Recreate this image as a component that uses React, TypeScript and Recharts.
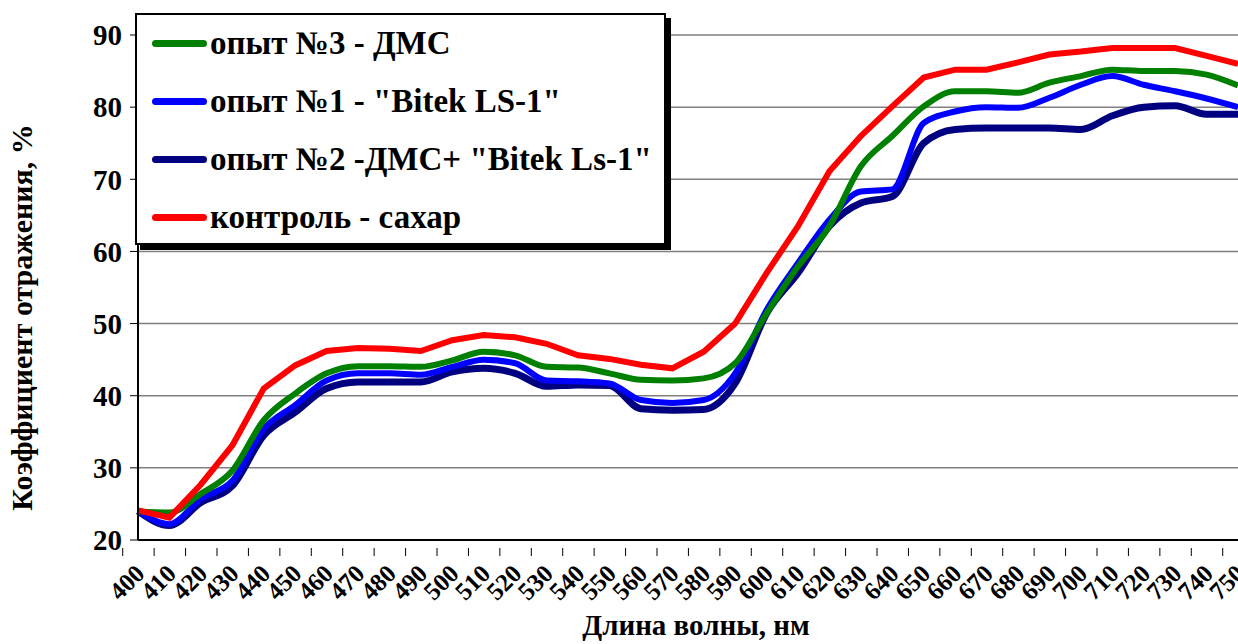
import { LineChart, Line, XAxis, YAxis, CartesianGrid } from "recharts";

// wavelength categories, nm
const WAVELENGTHS = [
  400, 410, 420, 430, 440, 450, 460, 470, 480, 490, 500, 510, 520, 530, 540, 550, 560, 570,
  580, 590, 600, 610, 620, 630, 640, 650, 660, 670, 680, 690, 700, 710, 720, 730, 740, 750,
];

// reflectance values, %
const EXP3_DMS = [
  24, 23.8, 26.4, 29.6, 36.6, 40.3, 43.1, 44.1, 44.1, 44, 44.9, 46.1, 45.6, 44, 43.9, 43.1, 42.2, 42.1,
  42.4, 44.5, 51.4, 57.9, 63.5, 71.8, 76, 80.1, 82.2, 82.2, 82, 83.4, 84.3, 85.2, 85, 85, 84.5, 83,
];
const EXP1_BITEK = [
  24, 22.2, 25.7, 28.2, 35.4, 38.7, 42.1, 43.1, 43.1, 42.9, 44, 45, 44.5, 42.1, 42, 41.7, 39.4, 39,
  39.4, 43.1, 51.9, 58.4, 64.4, 68.3, 68.6, 77.8, 79.4, 80, 79.9, 81.3, 83.1, 84.3, 83.1, 82.2, 81.2, 80,
];
const EXP2_MIX = [
  24, 22, 25.2, 27.5, 34.5, 37.7, 41, 41.9, 41.9, 41.9, 43.3, 43.8, 43.1, 41.3, 41.5, 41.4, 38.2, 38,
  38.1, 41.7, 51.4, 57, 63.5, 66.7, 67.6, 75, 76.9, 77.1, 77.1, 77.1, 76.9, 78.8, 80, 80.2, 79, 79,
];
const CONTROL = [
  24.1, 23.1, 27.7, 33.1, 41, 44.2, 46.2, 46.6, 46.5, 46.2, 47.7, 48.4, 48.1, 47.2, 45.6, 45.1, 44.3, 43.8,
  46.1, 50, 57, 63.5, 71.1, 76, 80.1, 84.1, 85.2, 85.2, 86.2, 87.3, 87.7, 88.2, 88.2, 88.2, 87.1, 86,
];

const Y_TICKS = [20, 30, 40, 50, 60, 70, 80, 90];

const SERIES = [
  { key: "exp3", name: "опыт №3 - ДМС", color: "#008000" },
  { key: "exp1", name: 'опыт №1 - "Bitek LS-1"', color: "#0000FF" },
  { key: "exp2", name: 'опыт №2 -ДМС+ "Bitek Ls-1"', color: "#000080" },
  { key: "control", name: "контроль - сахар", color: "#FF0000" },
];

const FONT = "Liberation Serif";

const data = WAVELENGTHS.map((w, i) => ({
  w,
  exp3: EXP3_DMS[i],
  exp1: EXP1_BITEK[i],
  exp2: EXP2_MIX[i],
  control: CONTROL[i],
}));

const BAND = 1100 / WAVELENGTHS.length;

// Excel-style: tick marks between categories, labels slanted
function XTick({ x, y, payload }: any) {
  return (
    <g transform={`translate(${x},${y})`}>
      <line x1={-BAND / 2} x2={-BAND / 2} y1={0} y2={8} stroke="#000" strokeWidth={1} />
      <text
        transform="translate(4,23) rotate(-45)"
        textAnchor="end"
        dominantBaseline="middle"
        fontFamily={FONT}
        fontWeight="bold"
        fontSize={25}
        fill="#000"
      >
        {payload.value}
      </text>
    </g>
  );
}

// y title sits a bit below the plot's middle, as in the source
function YTitle({ viewBox }: any) {
  const cx = viewBox.x + 25;
  const cy = viewBox.y + viewBox.height / 2 + 30;
  return (
    <text
      transform={`translate(${cx},${cy}) rotate(-90)`}
      textAnchor="middle"
      dominantBaseline="middle"
      fontFamily={FONT}
      fontWeight="bold"
      fontSize={30}
      fill="#000"
    >
      Коэффициент отражения, %
    </text>
  );
}

function LegendBox() {
  return (
    <div style={{ position: "absolute", left: 135, top: 13 }}>
      <div style={{ position: "absolute", left: 5, top: 5, width: 531, height: 232, background: "#000" }} />
      <div
        style={{
          position: "relative",
          width: 527,
          height: 228,
          background: "#fff",
          border: "2px solid #000",
        }}
      >
        {SERIES.map((s, i) => (
          <div
            key={s.key}
            style={{
              position: "absolute",
              left: 15,
              top: 8 + i * 58,
              height: 40,
              display: "flex",
              alignItems: "center",
              whiteSpace: "nowrap",
              fontFamily: FONT,
              fontWeight: "bold",
              fontSize: 33,
              color: "#000",
            }}
          >
            <span style={{ display: "inline-block", width: 55, height: 7, borderRadius: 4, background: s.color, marginRight: 3 }} />
            <span>{s.name}</span>
          </div>
        ))}
      </div>
    </div>
  );
}

export default function App() {
  return (
    <div style={{ position: "fixed", left: 0, top: 0, width: 1238, height: 644, background: "#fff" }}>
      <LineChart width={1238} height={644} data={data} margin={{ top: 35, right: 0, bottom: 0, left: 0 }}>
        <CartesianGrid vertical={false} stroke="#808080" strokeWidth={1.5} />
        <XAxis
          dataKey="w"
          height={104}
          axisLine={{ stroke: "#000", strokeWidth: 2 }}
          tickLine={false}
          interval={0}
          tick={<XTick />}
          label={{
            value: "Длина волны, нм",
            position: "insideBottom",
            offset: 9,
            dx: 8,
            style: { fontFamily: FONT, fontWeight: "bold", fontSize: 29, fill: "#000" },
          }}
        />
        <YAxis
          width={138}
          domain={[20, 90]}
          ticks={Y_TICKS}
          interval={0}
          axisLine={{ stroke: "#000", strokeWidth: 2 }}
          tickLine={{ stroke: "#000" }}
          tickSize={8}
          tickMargin={8}
          tick={{ fontFamily: FONT, fontWeight: "bold", fontSize: 29, fill: "#000" }}
          label={<YTitle />}
        />
        <Line dataKey="exp2" name={SERIES[2].name} stroke="#000080" strokeWidth={7} type="monotone" dot={false} isAnimationActive={false} />
        <Line dataKey="exp1" name={SERIES[1].name} stroke="#0000FF" strokeWidth={6} type="monotone" dot={false} isAnimationActive={false} />
        <Line dataKey="exp3" name={SERIES[0].name} stroke="#008000" strokeWidth={6} type="monotone" dot={false} isAnimationActive={false} />
        <Line dataKey="control" name={SERIES[3].name} stroke="#FF0000" strokeWidth={6} type="linear" dot={false} isAnimationActive={false} />
      </LineChart>
      <LegendBox />
    </div>
  );
}
